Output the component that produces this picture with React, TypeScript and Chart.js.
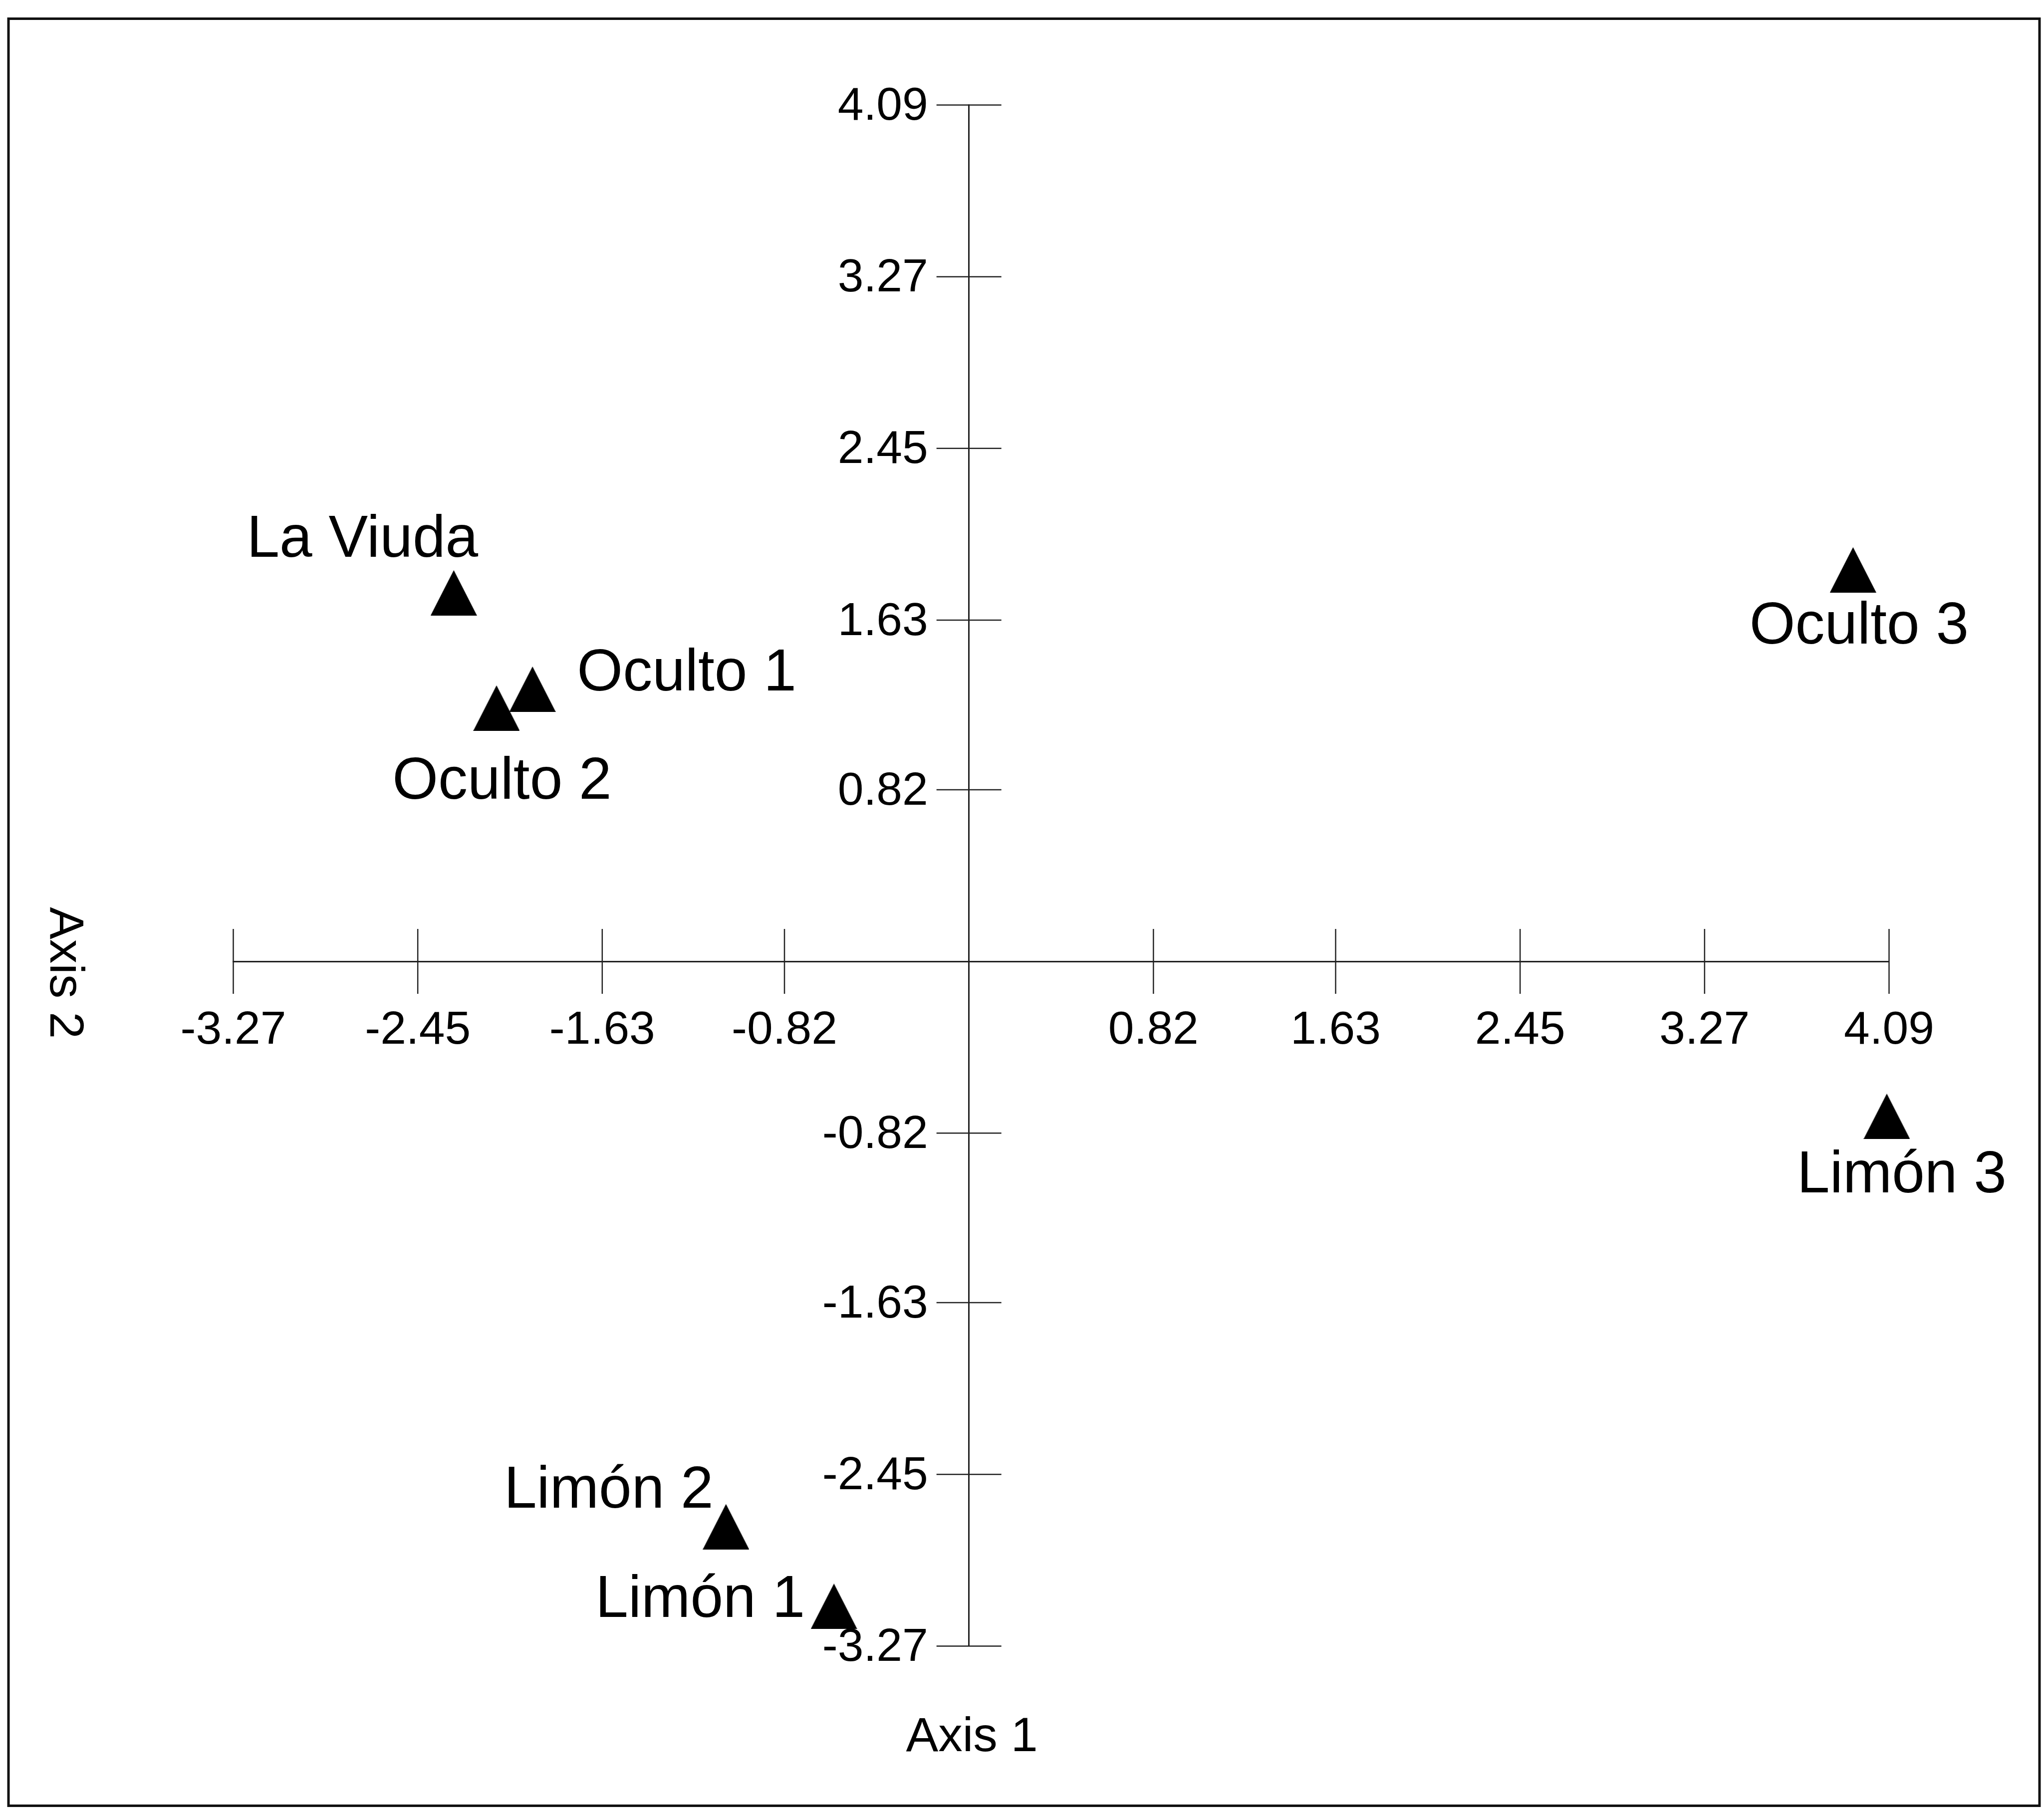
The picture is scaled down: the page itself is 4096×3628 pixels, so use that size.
import React, { useEffect, useRef } from 'react';
import { Chart, registerables } from 'chart.js';

Chart.register(...registerables);

// ---- data ----
const siteNames = ['La Viuda', 'Oculto 1', 'Oculto 2', 'Oculto 3', 'Limón 3', 'Limón 2', 'Limón 1'];
const axis1Scores = [-2.29, -1.94, -2.1, 3.93, 4.08, -1.08, -0.6];
const axis2Scores = [1.76, 1.3, 1.21, 1.87, -0.74, -2.7, -3.08];
const tickValues = [-3.27, -2.45, -1.63, -0.82, 0.82, 1.63, 2.45, 3.27, 4.09];
const tickLabels = ['-3.27', '-2.45', '-1.63', '-0.82', '0.82', '1.63', '2.45', '3.27', '4.09'];
const axisTitles = ['Axis 1', 'Axis 2'];

// ---- style / placement (pixels) ----
const W = 4096;
const H = 3628;
const FONT = '"Liberation Sans", Arial, Helvetica, sans-serif';
const labelOffsets: [number, number][] = [
  [-183, -105],
  [309, -30],
  [11, 149],
  [12, 115],
  [30, 120],
  [-235, -71],
  [-268, -11],
];

function makeTriangle(): HTMLCanvasElement {
  const c = document.createElement('canvas');
  c.width = 93;
  c.height = 91;
  const g = c.getContext('2d')!;
  g.fillStyle = '#000';
  g.beginPath();
  g.moveTo(46.5, 0);
  g.lineTo(93, 91);
  g.lineTo(0, 91);
  g.closePath();
  g.fill();
  return c;
}

const pcaPlugin = {
  id: 'pcaDecor',
  beforeDraw(chart: any) {
    const ctx = chart.ctx;
    ctx.save();
    ctx.fillStyle = '#ffffff';
    ctx.fillRect(0, 0, chart.width, chart.height);
    ctx.strokeStyle = '#111';
    ctx.lineWidth = 5;
    ctx.strokeRect(17, 37.5, 4070, 3582);
    ctx.restore();
  },
  beforeDatasetsDraw(chart: any) {
    const ctx = chart.ctx;
    const x = chart.scales.x;
    const y = chart.scales.y;
    const x0 = x.getPixelForValue(0);
    const y0 = y.getPixelForValue(0);
    ctx.save();
    ctx.strokeStyle = '#222';
    ctx.lineWidth = 2.5;
    ctx.fillStyle = '#000';
    ctx.font = `93px ${FONT}`;
    ctx.textBaseline = 'middle';
    ctx.textAlign = 'center';
    x.ticks.forEach((t: any, i: number) => {
      const px = x.getPixelForTick(i);
      ctx.beginPath();
      ctx.moveTo(px, y0 - 65);
      ctx.lineTo(px, y0 + 65);
      ctx.stroke();
      ctx.fillText(t.label, px, y0 + 139);
    });
    ctx.textAlign = 'right';
    y.ticks.forEach((t: any, i: number) => {
      const py = y.getPixelForTick(i);
      ctx.beginPath();
      ctx.moveTo(x0 - 65, py);
      ctx.lineTo(x0 + 65, py);
      ctx.stroke();
      ctx.fillText(t.label, x0 - 82, py + 4);
    });
    ctx.font = `97px ${FONT}`;
    ctx.textAlign = 'center';
    ctx.fillText(axisTitles[0], x0 + 6, y.bottom + 184);
    ctx.save();
    ctx.translate(x.left - 340, y0 + 23);
    ctx.rotate(Math.PI / 2);
    ctx.fillText(axisTitles[1], 0, 0);
    ctx.restore();
    ctx.restore();
  },
  afterDatasetsDraw(chart: any) {
    const ctx = chart.ctx;
    const meta = chart.getDatasetMeta(0);
    ctx.save();
    ctx.fillStyle = '#000';
    ctx.font = `118px ${FONT}`;
    ctx.textAlign = 'center';
    ctx.textBaseline = 'middle';
    meta.data.forEach((pt: any, i: number) => {
      const [dx, dy] = labelOffsets[i];
      ctx.fillText(siteNames[i], pt.x + dx, pt.y + dy);
    });
    ctx.restore();
  },
};

export default function App() {
  const ref = useRef<HTMLCanvasElement>(null);
  useEffect(() => {
    document.body.style.margin = '0';
    const canvas = ref.current!;
    const tri = makeTriangle();
    const axisCommon = (posKey: 'x' | 'y') => ({
      type: 'linear' as const,
      min: -3.27,
      max: 4.09,
      position: posKey === 'x' ? { y: 0 } : { x: 0 },
      grid: { display: false },
      border: { display: true, color: '#222', width: 3 },
      ticks: {
        display: false,
        autoSkip: false,
        callback: (_v: any, i: number) => tickLabels[i],
      },
      afterBuildTicks: (s: any) => {
        s.ticks = tickValues.map((v) => ({ value: v }));
      },
    });
    const chart = new Chart(canvas, {
      type: 'scatter',
      data: {
        labels: siteNames,
        datasets: [
          {
            label: 'Sites',
            data: axis1Scores.map((v, i) => ({ x: v, y: axis2Scores[i] })),
            pointStyle: tri as any,
            pointRadius: 46,
            backgroundColor: '#000',
            borderColor: '#000',
            clip: false as any,
          },
        ],
      },
      options: {
        responsive: false,
        animation: false,
        devicePixelRatio: 1,
        events: [],
        layout: { padding: { left: 467.5, top: 210.5, right: 310.5, bottom: 328.6 } },
        plugins: {
          legend: { display: false },
          tooltip: { enabled: false },
          title: { display: false },
        },
        scales: {
          x: axisCommon('x') as any,
          y: axisCommon('y') as any,
        },
      },
      plugins: [pcaPlugin],
    });
    return () => chart.destroy();
  }, []);
  return (
    <div style={{ position: 'fixed', left: 0, top: 0, width: W, height: H, background: '#fff' }}>
      <canvas ref={ref} width={W} height={H} style={{ display: 'block', width: W, height: H }} />
    </div>
  );
}
